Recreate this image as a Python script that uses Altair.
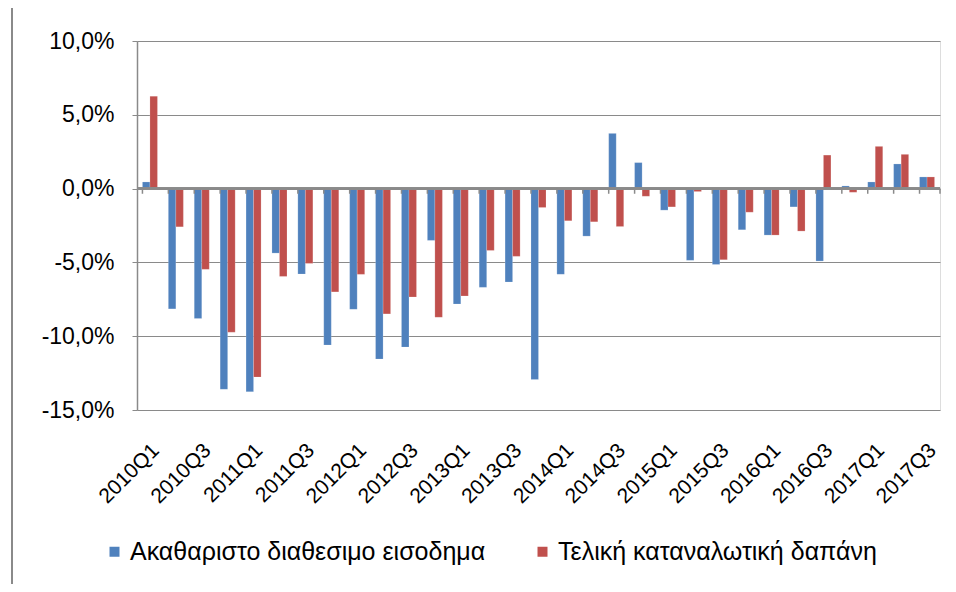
import altair as alt
import pandas as pd

quarters = [
    "2010Q1", "2010Q2", "2010Q3", "2010Q4",
    "2011Q1", "2011Q2", "2011Q3", "2011Q4",
    "2012Q1", "2012Q2", "2012Q3", "2012Q4",
    "2013Q1", "2013Q2", "2013Q3", "2013Q4",
    "2014Q1", "2014Q2", "2014Q3", "2014Q4",
    "2015Q1", "2015Q2", "2015Q3", "2015Q4",
    "2016Q1", "2016Q2", "2016Q3", "2016Q4",
    "2017Q1", "2017Q2", "2017Q3",
]
series_names = ["Ακαθαριστο διαθεσιμο εισοδημα", "Τελική καταναλωτική δαπάνη"]
income = [
    0.45, -8.15, -8.80, -13.60,
    -13.76, -4.37, -5.79, -10.60,
    -8.18, -11.55, -10.74, -3.51,
    -7.82, -6.69, -6.33, -12.93,
    -5.81, -3.22, 3.74, 1.76,
    -1.46, -4.86, -5.14, -2.79,
    -3.15, -1.24, -4.91, 0.18,
    0.45, 1.67, 0.79,
]
consumption = [
    6.26, -2.59, -5.47, -9.73,
    -12.77, -5.95, -5.07, -7.00,
    -5.81, -8.49, -7.34, -8.72,
    -7.27, -4.19, -4.59, -1.28,
    -2.18, -2.25, -2.57, -0.52,
    -1.24, -0.20, -4.82, -1.60,
    -3.15, -2.88, 2.27, -0.25,
    2.86, 2.32, 0.79,
]
colors = ["#4F81BD", "#C0504D"]
y_ticks = [-15, -10, -5, 0, 5, 10]
label_quarters = quarters[::2]

rows = []
for q, a, b in zip(quarters, income, consumption):
    rows.append({"q": q, "s": series_names[0], "v": a})
    rows.append({"q": q, "s": series_names[1], "v": b})
df = pd.DataFrame(rows)
qdf = pd.DataFrame({"q": quarters})

FONT = "Liberation Sans"
GRID = "#8A8A8A"

xscale = alt.Scale(domain=quarters, paddingInner=0.42, paddingOuter=0.21)
yscale = alt.Scale(domain=[-15, 10], nice=False, zero=False)

x_axis = alt.Axis(values=label_quarters, labelAngle=315, labelFontSize=21,
                  labelFont=FONT, labelColor="#000000", domain=False, ticks=False,
                  labelPadding=37, labelOffset=6, labelAlign="right", labelBaseline="middle", grid=False,
                  labelOverlap=False)

bars = alt.Chart(df).mark_bar(stroke="#FFFFFF", strokeOpacity=0.35, strokeWidth=0.5).encode(
    x=alt.X("q:N", scale=xscale, sort=quarters, title=None, axis=x_axis),
    xOffset=alt.XOffset("s:N", sort=series_names, scale=alt.Scale(paddingInner=0, paddingOuter=0)),
    y=alt.Y("v:Q", scale=yscale, title=None,
            axis=alt.Axis(values=y_ticks, grid=True, gridColor=GRID, gridWidth=1,
                          domain=True, domainColor=GRID, domainWidth=1.5,
                          ticks=True, tickColor=GRID, tickSize=5, tickWidth=1,
                          labelFontSize=23, labelFont=FONT, labelColor="#000000", labelPadding=18,
                          labelExpr="(datum.value < 0 ? '-' : '') + abs(datum.value) + ',0%'")),
    color=alt.Color("s:N", scale=alt.Scale(domain=series_names, range=colors), title=None,
                    legend=alt.Legend(orient="none", direction="horizontal", legendX=-35, legendY=498,
                                      symbolType="square", symbolSize=100, symbolStrokeWidth=0,
                                      labelFontSize=25, labelFont=FONT, labelColor="#000000",
                                      labelLimit=700, columnPadding=44, labelOffset=3)),
)

zero = alt.Chart(qdf).mark_rule(color=GRID, strokeWidth=1.5).encode(y=alt.datum(0, scale=yscale))

ticks = alt.Chart(qdf).mark_rule(color=GRID, strokeWidth=1.5).encode(
    x=alt.X("q:N", sort=quarters, scale=xscale, bandPosition=0, title=None, axis=x_axis),
    y=alt.datum(0, scale=yscale),
    y2=alt.datum(-0.35),
)

end_tick = alt.Chart(qdf.head(1)).mark_rule(color=GRID, strokeWidth=1.5).encode(
    x=alt.value(803),
    y=alt.datum(0, scale=yscale),
    y2=alt.datum(-0.35),
)

frame = alt.Chart(qdf).mark_rule(color="#8A8A8A", strokeWidth=1.5).encode(
    x=alt.value(-125), y=alt.value(-41), y2=alt.value(600)
)

chart = alt.layer(bars, zero, ticks, end_tick, frame).properties(
    width=803, height=369,
    padding={"left": 129, "top": 33, "right": 8, "bottom": 174},
    autosize=alt.AutoSizeParams(type="none"),
).configure_view(strokeWidth=0).configure(background="#FFFFFF")

chart.save("out.html", embed_options={"renderer": "svg", "actions": False})
